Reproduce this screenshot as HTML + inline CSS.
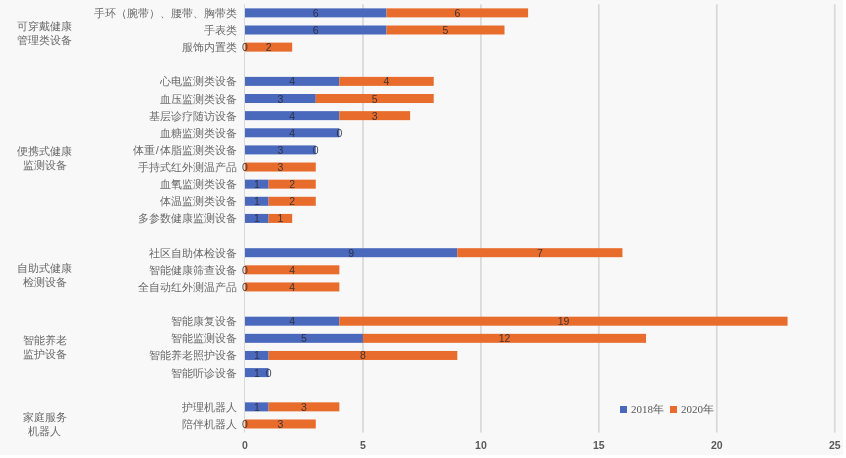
<!DOCTYPE html>
<html><head><meta charset="utf-8"><style>
html,body{margin:0;padding:0;}
body{width:846px;height:458px;background:#f8f8f8;position:relative;overflow:hidden;font-family:"Liberation Sans",sans-serif;}
svg{position:absolute;left:0;top:0;}
.cat{position:absolute;right:609px;transform:translateY(-50%);font-size:11px;color:#6a6a6a;white-space:nowrap;line-height:1;}
.grp{position:absolute;left:44.5px;transform:translate(-50%,-50%);font-size:11px;color:#6a6a6a;line-height:14px;text-align:center;white-space:nowrap;}
.lbl{position:absolute;transform:translate(-50%,-50%);font-size:10.5px;color:rgba(40,40,50,0.85);line-height:1;white-space:nowrap;}
.tick{position:absolute;transform:translate(-50%,-50%);font-size:10.5px;color:#595959;line-height:1;font-weight:bold;}
.leg{position:absolute;transform:translateY(-50%);font-family:"Liberation Serif",serif;font-size:11px;color:#595959;white-space:nowrap;line-height:1;}
.sw{position:absolute;width:7px;height:7px;}
</style></head><body>
<div id="c" style="position:absolute;left:0;top:0;width:846px;height:458px;filter:blur(0.5px)">
<svg width="846" height="458" viewBox="0 0 846 458"><rect x="362.05" y="4.3" width="1.8" height="428.25" fill="#dadada"/><rect x="480" y="4.3" width="1.8" height="428.25" fill="#dadada"/><rect x="597.95" y="4.3" width="1.8" height="428.25" fill="#dadada"/><rect x="715.9" y="4.3" width="1.8" height="428.25" fill="#dadada"/><rect x="833.85" y="4.3" width="1.8" height="428.25" fill="#dadada"/><rect x="244" y="4.3" width="1" height="428.25" fill="#d8d8d8"/><rect x="245" y="8.36" width="141.54" height="9" fill="#4a68bc"/><rect x="386.54" y="8.36" width="141.54" height="9" fill="#e86c2c"/><rect x="245" y="25.5" width="141.54" height="9" fill="#4a68bc"/><rect x="386.54" y="25.5" width="117.95" height="9" fill="#e86c2c"/><rect x="245" y="42.62" width="47.18" height="9" fill="#e86c2c"/><rect x="245" y="76.88" width="94.36" height="9" fill="#4a68bc"/><rect x="339.36" y="76.88" width="94.36" height="9" fill="#e86c2c"/><rect x="245" y="94.01" width="70.77" height="9" fill="#4a68bc"/><rect x="315.77" y="94.01" width="117.95" height="9" fill="#e86c2c"/><rect x="245" y="111.14" width="94.36" height="9" fill="#4a68bc"/><rect x="339.36" y="111.14" width="70.77" height="9" fill="#e86c2c"/><rect x="245" y="128.28" width="94.36" height="9" fill="#4a68bc"/><rect x="245" y="145.41" width="70.77" height="9" fill="#4a68bc"/><rect x="245" y="162.53" width="70.77" height="9" fill="#e86c2c"/><rect x="245" y="179.66" width="23.59" height="9" fill="#4a68bc"/><rect x="268.59" y="179.66" width="47.18" height="9" fill="#e86c2c"/><rect x="245" y="196.79" width="23.59" height="9" fill="#4a68bc"/><rect x="268.59" y="196.79" width="47.18" height="9" fill="#e86c2c"/><rect x="245" y="213.93" width="23.59" height="9" fill="#4a68bc"/><rect x="268.59" y="213.93" width="23.59" height="9" fill="#e86c2c"/><rect x="245" y="248.19" width="212.31" height="9" fill="#4a68bc"/><rect x="457.31" y="248.19" width="165.13" height="9" fill="#e86c2c"/><rect x="245" y="265.31" width="94.36" height="9" fill="#e86c2c"/><rect x="245" y="282.44" width="94.36" height="9" fill="#e86c2c"/><rect x="245" y="316.7" width="94.36" height="9" fill="#4a68bc"/><rect x="339.36" y="316.7" width="448.21" height="9" fill="#e86c2c"/><rect x="245" y="333.83" width="117.95" height="9" fill="#4a68bc"/><rect x="362.95" y="333.83" width="283.08" height="9" fill="#e86c2c"/><rect x="245" y="350.96" width="23.59" height="9" fill="#4a68bc"/><rect x="268.59" y="350.96" width="188.72" height="9" fill="#e86c2c"/><rect x="245" y="368.09" width="23.59" height="9" fill="#4a68bc"/><rect x="245" y="402.35" width="23.59" height="9" fill="#4a68bc"/><rect x="268.59" y="402.35" width="70.77" height="9" fill="#e86c2c"/><rect x="245" y="419.49" width="70.77" height="9" fill="#e86c2c"/></svg>
<div class="cat" style="top:12.86px">手环（腕带）、腰带、胸带类</div><div class="lbl" style="left:315.77px;top:12.86px">6</div><div class="lbl" style="left:457.31px;top:12.86px">6</div><div class="cat" style="top:30px">手表类</div><div class="lbl" style="left:315.77px;top:30px">6</div><div class="lbl" style="left:445.51px;top:30px">5</div><div class="cat" style="top:47.12px">服饰内置类</div><div class="lbl" style="left:245px;top:47.12px">0</div><div class="lbl" style="left:268.59px;top:47.12px">2</div><div class="cat" style="top:81.38px">心电监测类设备</div><div class="lbl" style="left:292.18px;top:81.38px">4</div><div class="lbl" style="left:386.54px;top:81.38px">4</div><div class="cat" style="top:98.51px">血压监测类设备</div><div class="lbl" style="left:280.38px;top:98.51px">3</div><div class="lbl" style="left:374.75px;top:98.51px">5</div><div class="cat" style="top:115.64px">基层诊疗随访设备</div><div class="lbl" style="left:292.18px;top:115.64px">4</div><div class="lbl" style="left:374.75px;top:115.64px">3</div><div class="cat" style="top:132.78px">血糖监测类设备</div><div class="lbl" style="left:292.18px;top:132.78px">4</div><div class="lbl" style="left:339.36px;top:132.78px">0</div><div class="cat" style="top:149.91px">体重<span style="padding:0 1.2px">/</span>体脂监测类设备</div><div class="lbl" style="left:280.38px;top:149.91px">3</div><div class="lbl" style="left:315.77px;top:149.91px">0</div><div class="cat" style="top:167.03px">手持式红外测温产品</div><div class="lbl" style="left:245px;top:167.03px">0</div><div class="lbl" style="left:280.38px;top:167.03px">3</div><div class="cat" style="top:184.16px">血氧监测类设备</div><div class="lbl" style="left:256.8px;top:184.16px">1</div><div class="lbl" style="left:292.18px;top:184.16px">2</div><div class="cat" style="top:201.29px">体温监测类设备</div><div class="lbl" style="left:256.8px;top:201.29px">1</div><div class="lbl" style="left:292.18px;top:201.29px">2</div><div class="cat" style="top:218.43px">多参数健康监测设备</div><div class="lbl" style="left:256.8px;top:218.43px">1</div><div class="lbl" style="left:280.38px;top:218.43px">1</div><div class="cat" style="top:252.69px">社区自助体检设备</div><div class="lbl" style="left:351.15px;top:252.69px">9</div><div class="lbl" style="left:539.88px;top:252.69px">7</div><div class="cat" style="top:269.81px">智能健康筛查设备</div><div class="lbl" style="left:245px;top:269.81px">0</div><div class="lbl" style="left:292.18px;top:269.81px">4</div><div class="cat" style="top:286.94px">全自动红外测温产品</div><div class="lbl" style="left:245px;top:286.94px">0</div><div class="lbl" style="left:292.18px;top:286.94px">4</div><div class="cat" style="top:321.2px">智能康复设备</div><div class="lbl" style="left:292.18px;top:321.2px">4</div><div class="lbl" style="left:563.47px;top:321.2px">19</div><div class="cat" style="top:338.33px">智能监测设备</div><div class="lbl" style="left:303.98px;top:338.33px">5</div><div class="lbl" style="left:504.49px;top:338.33px">12</div><div class="cat" style="top:355.46px">智能养老照护设备</div><div class="lbl" style="left:256.8px;top:355.46px">1</div><div class="lbl" style="left:362.95px;top:355.46px">8</div><div class="cat" style="top:372.59px">智能听诊设备</div><div class="lbl" style="left:256.8px;top:372.59px">1</div><div class="lbl" style="left:268.59px;top:372.59px">0</div><div class="cat" style="top:406.85px">护理机器人</div><div class="lbl" style="left:256.8px;top:406.85px">1</div><div class="lbl" style="left:303.97px;top:406.85px">3</div><div class="cat" style="top:423.99px">陪伴机器人</div><div class="lbl" style="left:245px;top:423.99px">0</div><div class="lbl" style="left:280.38px;top:423.99px">3</div><div class="grp" style="top:32.6px">可穿戴健康<br>管理类设备</div><div class="grp" style="top:158.2px">便携式健康<br>监测设备</div><div class="grp" style="top:274.7px">自助式健康<br>检测设备</div><div class="grp" style="top:346.75px">智能养老<br>监护设备</div><div class="grp" style="top:423.6px">家庭服务<br>机器人</div><div class="tick" style="left:245px;top:445.3px">0</div><div class="tick" style="left:362.95px;top:445.3px">5</div><div class="tick" style="left:480.9px;top:445.3px">10</div><div class="tick" style="left:598.85px;top:445.3px">15</div><div class="tick" style="left:716.8px;top:445.3px">20</div><div class="tick" style="left:834.75px;top:445.3px">25</div>
<div class="sw" style="left:620px;top:405.8px;background:#4a68bc"></div><div class="sw" style="left:670px;top:405.8px;background:#e86c2c"></div><div class="leg" style="left:631px;top:409.3px">2018年</div><div class="leg" style="left:681px;top:409.3px">2020年</div>
</div>
<div style="position:absolute;left:843px;top:0;width:3px;height:458px;background:#fff"></div><div style="position:absolute;left:0;top:455px;width:846px;height:3px;background:#fff"></div>
</body></html>
